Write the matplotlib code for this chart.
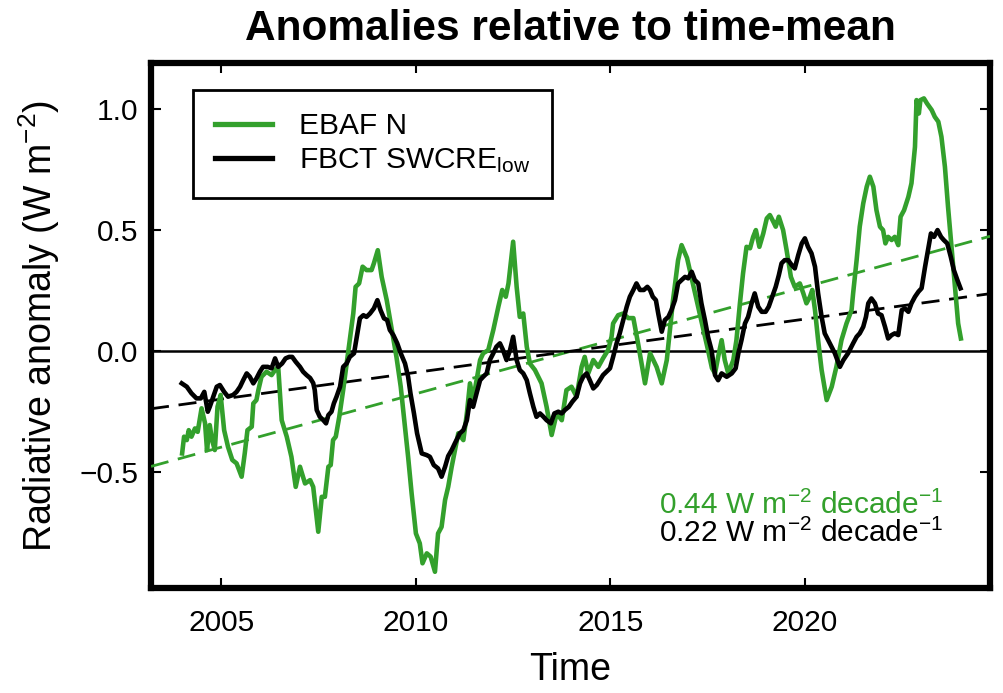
import matplotlib
matplotlib.use("Agg")
import matplotlib.pyplot as plt
import numpy as np

plt.rcParams["font.family"] = ["Liberation Sans", "DejaVu Sans"]
plt.rcParams["mathtext.fontset"] = "custom"
plt.rcParams["mathtext.rm"] = "Liberation Sans"
plt.rcParams["mathtext.it"] = "Liberation Sans:italic"
plt.rcParams["mathtext.bf"] = "Liberation Sans:bold"

GREEN = "#33a02c"

# EBAF net radiation anomaly (W m-2)
ebaf_time = [
    2003.99, 2004.04, 2004.11, 2004.16, 2004.23, 2004.32, 2004.39, 2004.49, 2004.58, 2004.63,
    2004.70, 2004.76, 2004.83, 2004.90, 2004.98, 2005.07, 2005.17, 2005.28, 2005.39, 2005.52,
    2005.60, 2005.67, 2005.78, 2005.82, 2005.90, 2005.95, 2006.03, 2006.16, 2006.29, 2006.38,
    2006.46, 2006.55, 2006.68, 2006.80, 2006.91, 2007.02, 2007.15, 2007.28, 2007.36, 2007.49,
    2007.58, 2007.66, 2007.75, 2007.81, 2007.87, 2007.94, 2008.03, 2008.13, 2008.22, 2008.30,
    2008.39, 2008.45, 2008.54, 2008.63, 2008.73, 2008.86, 2008.92, 2009.02, 2009.12, 2009.25,
    2009.38, 2009.50, 2009.61, 2009.72, 2009.80, 2009.89, 2010.00, 2010.10, 2010.17, 2010.28,
    2010.38, 2010.49, 2010.57, 2010.66, 2010.75, 2010.83, 2010.92, 2011.09, 2011.22, 2011.31,
    2011.39, 2011.47, 2011.56, 2011.65, 2011.73, 2011.86, 2011.99, 2012.12, 2012.22, 2012.31,
    2012.38, 2012.50, 2012.59, 2012.67, 2012.76, 2012.85, 2012.93, 2013.06, 2013.23, 2013.36,
    2013.49, 2013.62, 2013.75, 2013.87, 2014.00, 2014.13, 2014.26, 2014.34, 2014.43, 2014.56,
    2014.69, 2014.81, 2014.94, 2015.03, 2015.07, 2015.20, 2015.33, 2015.46, 2015.59, 2015.71,
    2015.89, 2016.02, 2016.19, 2016.32, 2016.45, 2016.61, 2016.74, 2016.83, 2016.97, 2017.10,
    2017.22, 2017.38, 2017.51, 2017.61, 2017.69, 2017.77, 2017.86, 2017.94, 2018.03, 2018.16,
    2018.24, 2018.33, 2018.41, 2018.50, 2018.59, 2018.67, 2018.74, 2018.83, 2018.93, 2019.02,
    2019.10, 2019.19, 2019.25, 2019.33, 2019.44, 2019.53, 2019.64, 2019.74, 2019.87, 2019.96,
    2020.04, 2020.13, 2020.19, 2020.26, 2020.34, 2020.43, 2020.56, 2020.69, 2020.81, 2020.94,
    2021.07, 2021.20, 2021.24, 2021.33, 2021.41, 2021.50, 2021.59, 2021.67, 2021.76, 2021.84,
    2021.93, 2022.01, 2022.07, 2022.14, 2022.23, 2022.31, 2022.40, 2022.46, 2022.55, 2022.66,
    2022.74, 2022.83, 2022.87, 2022.93, 2022.97, 2023.06, 2023.14, 2023.26, 2023.34, 2023.43,
    2023.51, 2023.60, 2023.68, 2023.77, 2023.86, 2023.94, 2024.01,
]
ebaf_anom = [
    -0.422, -0.353, -0.367, -0.326, -0.353, -0.319, -0.333, -0.236, -0.298, -0.408,
    -0.305, -0.367, -0.408, -0.230, -0.181, -0.326, -0.395, -0.449, -0.463, -0.518,
    -0.422, -0.326, -0.312, -0.216, -0.202, -0.161, -0.106, -0.085, -0.099, -0.078,
    -0.065, -0.285, -0.353, -0.436, -0.560, -0.477, -0.546, -0.532, -0.560, -0.745,
    -0.601, -0.601, -0.477, -0.470, -0.367, -0.353, -0.271, -0.161, -0.051, 0.045,
    0.155, 0.265, 0.279, 0.348, 0.334, 0.334, 0.362, 0.416, 0.306, 0.210,
    0.087, -0.024, -0.147, -0.312, -0.436, -0.587, -0.752, -0.793, -0.875, -0.834,
    -0.848, -0.910, -0.752, -0.725, -0.614, -0.560, -0.477, -0.339, -0.367, -0.257,
    -0.133, -0.202, -0.120, -0.037, -0.009, 0.004, 0.087, 0.183, 0.252, 0.224,
    0.279, 0.451, 0.265, 0.141, 0.155, 0.018, -0.051, -0.078, -0.133, -0.230,
    -0.346, -0.257, -0.285, -0.161, -0.147, -0.188, -0.065, -0.024, -0.092, -0.037,
    -0.065, -0.030, 0.004, 0.059, 0.114, 0.148, 0.155, 0.136, 0.136, 0.033,
    -0.133, -0.009, -0.066, -0.133, -0.037, 0.210, 0.375, 0.437, 0.384, 0.293,
    0.210, 0.099, 0.004, -0.070, -0.092, -0.024, 0.045, -0.037, -0.092, -0.037,
    0.045, 0.197, 0.320, 0.430, 0.424, 0.471, 0.499, 0.430, 0.485, 0.547,
    0.561, 0.533, 0.513, 0.554, 0.499, 0.416, 0.306, 0.265, 0.279, 0.238,
    0.197, 0.224, 0.252, 0.169, 0.045, -0.078, -0.202, -0.147, -0.065, 0.045,
    0.114, 0.169, 0.238, 0.375, 0.513, 0.609, 0.678, 0.719, 0.678, 0.581,
    0.513, 0.499, 0.444, 0.471, 0.458, 0.471, 0.437, 0.554, 0.581, 0.636,
    0.692, 0.842, 1.035, 0.980, 1.035, 1.042, 1.021, 0.994, 0.966, 0.946,
    0.884, 0.760, 0.595, 0.430, 0.265, 0.114, 0.052,
]

# FBCT low-cloud shortwave cloud radiative effect anomaly (W m-2)
fbct_time = [
    2003.98, 2004.11, 2004.23, 2004.36, 2004.47, 2004.56, 2004.65, 2004.70, 2004.79, 2004.88,
    2004.96, 2005.07, 2005.17, 2005.30, 2005.39, 2005.48, 2005.56, 2005.65, 2005.73, 2005.82,
    2005.90, 2005.99, 2006.07, 2006.19, 2006.29, 2006.38, 2006.46, 2006.56, 2006.65, 2006.74,
    2006.82, 2006.91, 2007.02, 2007.10, 2007.19, 2007.28, 2007.36, 2007.40, 2007.45, 2007.53,
    2007.62, 2007.69, 2007.75, 2007.83, 2007.89, 2007.96, 2008.05, 2008.13, 2008.22, 2008.30,
    2008.41, 2008.48, 2008.56, 2008.65, 2008.73, 2008.82, 2008.92, 2009.01, 2009.09, 2009.18,
    2009.26, 2009.33, 2009.42, 2009.52, 2009.61, 2009.72, 2009.80, 2009.86, 2009.95, 2010.03,
    2010.15, 2010.28, 2010.36, 2010.46, 2010.57, 2010.66, 2010.75, 2010.83, 2010.92, 2011.00,
    2011.13, 2011.22, 2011.31, 2011.39, 2011.47, 2011.56, 2011.65, 2011.73, 2011.82, 2011.90,
    2011.99, 2012.07, 2012.16, 2012.24, 2012.33, 2012.42, 2012.50, 2012.59, 2012.67, 2012.76,
    2012.85, 2012.93, 2013.02, 2013.10, 2013.19, 2013.28, 2013.36, 2013.47, 2013.56, 2013.66,
    2013.75, 2013.83, 2013.93, 2014.02, 2014.13, 2014.22, 2014.30, 2014.39, 2014.47, 2014.56,
    2014.65, 2014.73, 2014.81, 2014.90, 2014.99, 2015.07, 2015.16, 2015.24, 2015.33, 2015.42,
    2015.50, 2015.59, 2015.67, 2015.76, 2015.86, 2015.95, 2016.02, 2016.09, 2016.17, 2016.23,
    2016.32, 2016.40, 2016.49, 2016.57, 2016.66, 2016.74, 2016.83, 2016.92, 2017.00, 2017.09,
    2017.17, 2017.26, 2017.34, 2017.43, 2017.51, 2017.60, 2017.69, 2017.77, 2017.86, 2017.99,
    2018.12, 2018.22, 2018.29, 2018.37, 2018.46, 2018.54, 2018.63, 2018.71, 2018.80, 2018.89,
    2018.99, 2019.07, 2019.16, 2019.25, 2019.33, 2019.40, 2019.48, 2019.57, 2019.66, 2019.74,
    2019.83, 2019.92, 2020.00, 2020.08, 2020.17, 2020.26, 2020.34, 2020.43, 2020.51, 2020.64,
    2020.77, 2020.90, 2020.99, 2021.11, 2021.24, 2021.33, 2021.41, 2021.50, 2021.57, 2021.63,
    2021.71, 2021.80, 2021.88, 2021.97, 2022.06, 2022.14, 2022.23, 2022.31, 2022.40, 2022.49,
    2022.57, 2022.66, 2022.74, 2022.83, 2022.92, 2023.00, 2023.09, 2023.18, 2023.24, 2023.32,
    2023.41, 2023.50, 2023.57, 2023.66, 2023.75, 2023.83, 2023.92, 2024.00,
]
fbct_anom = [
    -0.133, -0.147, -0.174, -0.195, -0.195, -0.168, -0.250, -0.230, -0.188, -0.147,
    -0.140, -0.168, -0.188, -0.181, -0.168, -0.147, -0.120, -0.092, -0.106, -0.133,
    -0.113, -0.085, -0.065, -0.065, -0.071, -0.030, -0.065, -0.051, -0.030, -0.024,
    -0.024, -0.044, -0.065, -0.085, -0.099, -0.111, -0.132, -0.161, -0.243, -0.271,
    -0.285, -0.298, -0.264, -0.250, -0.216, -0.188, -0.147, -0.065, -0.051, -0.024,
    -0.009, 0.059, 0.135, 0.148, 0.141, 0.155, 0.176, 0.210, 0.169, 0.135,
    0.128, 0.087, 0.066, 0.032, -0.009, -0.051, -0.106, -0.174, -0.257, -0.339,
    -0.422, -0.429, -0.436, -0.470, -0.484, -0.518, -0.477, -0.433, -0.408, -0.381,
    -0.339, -0.326, -0.285, -0.202, -0.230, -0.174, -0.120, -0.106, -0.092, -0.037,
    -0.009, 0.018, 0.032, 0.004, -0.037, 0.004, 0.059, -0.037, -0.078, -0.092,
    -0.120, -0.174, -0.230, -0.271, -0.257, -0.271, -0.285, -0.298, -0.257, -0.250,
    -0.257, -0.243, -0.230, -0.209, -0.188, -0.133, -0.106, -0.092, -0.120, -0.154,
    -0.140, -0.120, -0.099, -0.085, -0.071, -0.024, 0.032, 0.073, 0.128, 0.183,
    0.224, 0.252, 0.279, 0.252, 0.252, 0.265, 0.252, 0.224, 0.210, 0.155,
    0.080, 0.128, 0.141, 0.169, 0.210, 0.279, 0.293, 0.306, 0.300, 0.327,
    0.293, 0.279, 0.197, 0.128, 0.059, 0.004, -0.099, -0.120, -0.092, -0.106,
    -0.092, -0.071, -0.009, 0.045, 0.114, 0.141, 0.197, 0.238, 0.183, 0.162,
    0.162, 0.183, 0.224, 0.265, 0.313, 0.362, 0.375, 0.375, 0.355, 0.341,
    0.396, 0.444, 0.465, 0.430, 0.403, 0.348, 0.238, 0.141, 0.073, 0.032,
    -0.009, -0.065, -0.037, -0.009, 0.032, 0.059, 0.073, 0.100, 0.141, 0.197,
    0.217, 0.197, 0.155, 0.148, 0.100, 0.052, 0.066, 0.073, 0.066, 0.169,
    0.176, 0.162, 0.197, 0.224, 0.245, 0.259, 0.348, 0.430, 0.485, 0.471,
    0.499, 0.471, 0.458, 0.444, 0.389, 0.334, 0.293, 0.259,
]

# linear trends (W m-2 per decade)
ebaf_trend = 0.44
fbct_trend = 0.22

series_labels = ["EBAF N", r"FBCT SWCRE$_{\mathrm{low}}$"]
x_ticks = [2005, 2010, 2015, 2020]
y_ticks = [-0.5, 0.0, 0.5, 1.0]

fig = plt.figure(figsize=(10.04, 6.93), dpi=100)
ax = fig.add_axes([0.1504, 0.1515, 0.8357, 0.7569])

x0, x1 = 2003.19, 2024.76
ax.set_xlim(x0, x1)
ax.set_ylim(-0.977, 1.186)

ax.axhline(0.0, color="black", lw=1.8, zorder=2)

# trend lines through the time-mean of the record
t_mid = 0.5 * (ebaf_time[0] + ebaf_time[-1])
tt = np.array([x0, x1])
ax.plot(tt, ebaf_trend / 10.0 * (tt - t_mid), color=GREEN, lw=2.0,
        dashes=(6.5, 3.5), zorder=3)
ax.plot(tt, fbct_trend / 10.0 * (tt - t_mid), color="black", lw=2.0,
        dashes=(6.5, 3.5), zorder=3)

ax.plot(ebaf_time, ebaf_anom, color=GREEN, lw=3.3, label=series_labels[0],
        solid_joinstyle="round", zorder=4)
ax.plot(fbct_time, fbct_anom, color="black", lw=3.3, label=series_labels[1],
        solid_joinstyle="round", zorder=5)

ax.set_xticks(x_ticks)
ax.set_yticks(y_ticks)
ax.set_yticklabels([f"{v:.1f}".replace("-", "\u2212") for v in y_ticks])
ax.tick_params(axis="both", direction="in", length=7, width=1.5,
               labelsize=21.5, top=True, right=True)
ax.tick_params(axis="x", pad=15)
ax.tick_params(axis="y", pad=9)
for sp in ax.spines.values():
    sp.set_linewidth(4.5)

ax.set_title("Anomalies relative to time-mean", fontsize=30.5, fontweight="bold", pad=17)
ax.set_xlabel("Time", fontsize=27)
ax.set_ylabel(r"Radiative anomaly (W m$^{-2}$)", fontsize=27)
ax.xaxis.set_label_coords(0.5, -0.122)
ax.yaxis.set_label_coords(-0.106, 0.5)

leg = ax.legend(loc="upper left", bbox_to_anchor=(0.0497, 0.9495), borderaxespad=0,
                fontsize=21.5, frameon=True, fancybox=False, framealpha=1,
                edgecolor="black", handlelength=1.9, handletextpad=0.9,
                borderpad=0.75, labelspacing=0.2)
leg.get_frame().set_linewidth(2.0)
for line in leg.get_lines():
    line.set_linewidth(3.8)

ax.text(0.944, 0.141, r"%.2f W m$^{-2}$ decade$^{-1}$" % ebaf_trend, color=GREEN,
        fontsize=21.5, ha="right", va="baseline", transform=ax.transAxes)
ax.text(0.944, 0.088, r"%.2f W m$^{-2}$ decade$^{-1}$" % fbct_trend, color="black",
        fontsize=21.5, ha="right", va="baseline", transform=ax.transAxes)

fig.savefig("out.png", dpi=100)
